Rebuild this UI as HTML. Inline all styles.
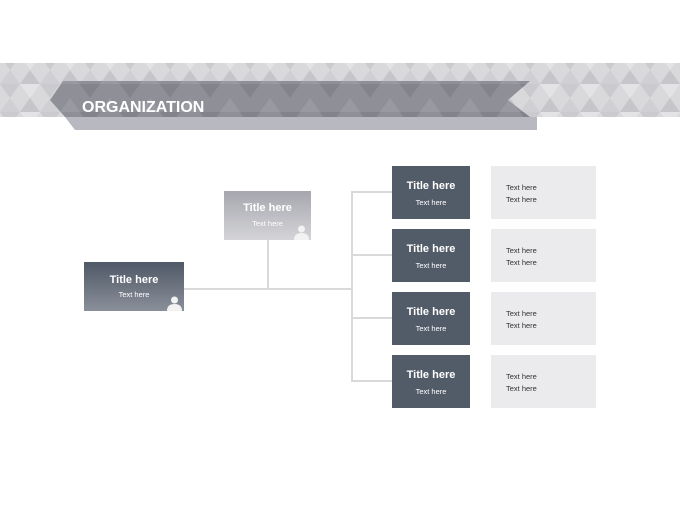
<!DOCTYPE html>
<html><head><style>
body{margin:0;width:680px;height:510px;background:#fff;position:relative;overflow:hidden;font-family:"Liberation Sans",sans-serif}
.a{position:absolute}
.n{position:absolute;color:#fff;text-align:center;box-sizing:border-box}
.n b{display:block;font-size:11px;font-weight:bold}
.n i{display:block;font-style:normal;font-size:7.5px;margin-top:6px}
.l{position:absolute;background:#ebebed;font-size:7.5px;color:#333;box-sizing:border-box;padding:16px 0 0 15px;line-height:12px}
.c{position:absolute;background:#d9d9d9}
.ic{position:absolute}
</style></head><body>
<svg class="a" style="left:0;top:0" width="680" height="140">
<defs><pattern id="p" width="40" height="28" patternUnits="userSpaceOnUse">
<rect width="40" height="28" fill="#d9d9dc"/>
<polygon points="0,0 10,14 20,0" fill="#cbcbcf"/>
<polygon points="20,28 30,14 40,28" fill="#c6c6ca"/>
<polygon points="20,0 30,14 40,0" fill="#e3e3e5"/>
<polygon points="0,28 10,14 20,28" fill="#d0d0d4"/>
</pattern>
<pattern id="q" width="40" height="28" patternUnits="userSpaceOnUse">
<rect width="40" height="28" fill="#8e8f97"/>
<polygon points="0,0 10,14 20,0" fill="#82838b"/>
<polygon points="20,28 30,14 40,28" fill="#999aa1"/>
</pattern></defs>
<rect x="0" y="63" width="680" height="54" fill="url(#p)"/>
<polygon points="65,117 537,117 537,130 75,130" fill="#b8b8c0"/>
<polygon points="63,81 530,81 508,100 530,117 65,117 50,100" fill="url(#q)"/>
<text x="82" y="112" font-family="Liberation Sans" font-weight="bold" font-size="16" fill="#fff">ORGANIZATION</text>
</svg>
<div class="c" style="left:184px;top:288px;width:168px;height:2px"></div>
<div class="c" style="left:267px;top:240px;width:2px;height:49px"></div>
<div class="c" style="left:351px;top:191px;width:2px;height:191px"></div>
<div class="c" style="left:352px;top:191px;width:40px;height:2px"></div>
<div class="c" style="left:352px;top:254px;width:40px;height:2px"></div>
<div class="c" style="left:352px;top:317px;width:40px;height:2px"></div>
<div class="c" style="left:352px;top:380px;width:40px;height:2px"></div>
<div class="n" style="left:84px;top:262px;width:100px;height:49px;background:linear-gradient(#4f5866,#8a909a);padding-top:12px"><b>Title here</b><i style="margin-top:4px">Text here</i>
<svg class="ic" style="left:82px;top:33px" width="17" height="16"><circle cx="8.5" cy="5" r="3.5" fill="#f2f2f2"/><path d="M1,16 Q1,9 8.5,9 Q16,9 16,16Z" fill="#f2f2f2"/></svg></div>
<div class="n" style="left:224px;top:191px;width:87px;height:49px;background:linear-gradient(#a6a7ae,#d4d4d8);padding-top:11px"><b>Title here</b><i style="margin-top:5px">Text here</i>
<svg class="ic" style="left:69px;top:33px" width="17" height="16"><circle cx="8.5" cy="5" r="3.5" fill="#f2f2f2"/><path d="M1,16 Q1,9 8.5,9 Q16,9 16,16Z" fill="#f2f2f2"/></svg></div>
<div class="n" style="left:392px;top:166px;width:78px;height:53px;background:#525b68;padding-top:14px"><b>Title here</b><i>Text here</i></div>
<div class="n" style="left:392px;top:229px;width:78px;height:53px;background:#525b68;padding-top:14px"><b>Title here</b><i>Text here</i></div>
<div class="n" style="left:392px;top:292px;width:78px;height:53px;background:#525b68;padding-top:14px"><b>Title here</b><i>Text here</i></div>
<div class="n" style="left:392px;top:355px;width:78px;height:53px;background:#525b68;padding-top:14px"><b>Title here</b><i>Text here</i></div>
<div class="l" style="left:491px;top:166px;width:105px;height:53px">Text here<br>Text here</div>
<div class="l" style="left:491px;top:229px;width:105px;height:53px">Text here<br>Text here</div>
<div class="l" style="left:491px;top:292px;width:105px;height:53px">Text here<br>Text here</div>
<div class="l" style="left:491px;top:355px;width:105px;height:53px">Text here<br>Text here</div>
</body></html>
